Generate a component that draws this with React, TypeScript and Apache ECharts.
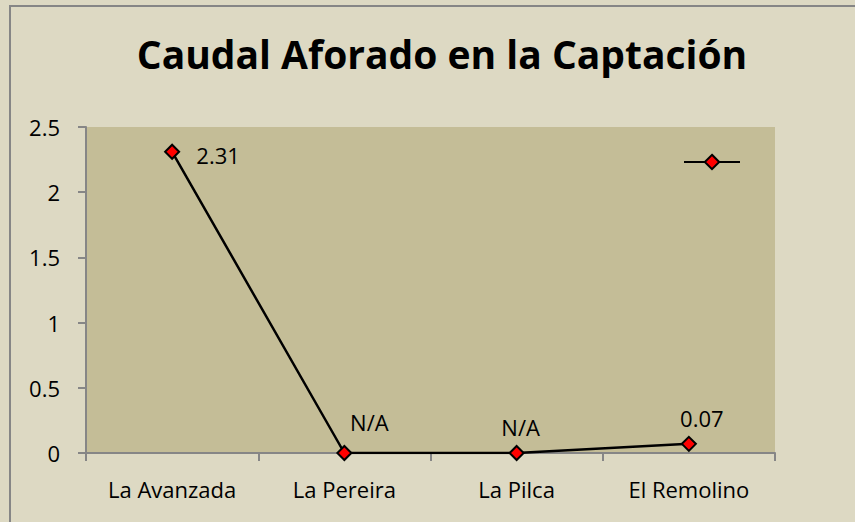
import React, { useEffect, useRef } from "react";
import * as echarts from "echarts";

const categories = ["La Avanzada", "La Pereira", "La Pilca", "El Remolino"];
const values = [2.31, 0, 0, 0.07];
const labelTexts = ["2.31", "N/A", "N/A", "0.07"];
const labelOffsets: [number, number][] = [[46, 3], [25, -31], [4, -26], [13, -26]];
const yTicks = { min: 0, max: 2.5, interval: 0.5 };

export default function App() {
  const ref = useRef<HTMLDivElement>(null);
  useEffect(() => {
    document.body.style.margin = "0";
    const chart = echarts.init(ref.current!, null, { renderer: "svg" });
    const font = "'Open Sans', sans-serif";
    chart.setOption({
      animation: false,
      backgroundColor: "#DDD9C3",
      graphic: [
        {
          type: "polyline",
          shape: { points: [[10, 522], [10, 6], [855, 6]] },
          style: { stroke: "#868686", lineWidth: 2, fill: "none" },
          silent: true,
        },
      ],
      title: {
        text: "Caudal Aforado en la Captación",
        left: 437,
        textAlign: "center",
        top: 29,
        textStyle: {
          fontFamily: "'Open Sans', sans-serif",
          fontWeight: "bold",
          fontSize: 39,
          color: "#000",
        },
      },
      legend: {
        left: 678,
        top: 148,
        itemWidth: 56,
        itemHeight: 18,
        formatter: () => "",
        data: ["Caudal"],
      },
      grid: {
        left: 86,
        right: 80,
        top: 127,
        bottom: 69,
        show: true,
        backgroundColor: "#C4BD97",
        borderWidth: 0,
      },
      xAxis: {
        type: "category",
        data: categories,
        boundaryGap: true,
        axisLine: { lineStyle: { color: "#868686", width: 2 } },
        axisTick: { show: true, length: 8, lineStyle: { color: "#868686", width: 2 } },
        axisLabel: { fontFamily: font, fontSize: 22, color: "#000", margin: 25 },
      },
      yAxis: {
        type: "value",
        min: yTicks.min,
        max: yTicks.max,
        interval: yTicks.interval,
        axisLine: { show: true, lineStyle: { color: "#868686", width: 2 } },
        axisTick: { show: true, length: 8, lineStyle: { color: "#868686", width: 2 } },
        splitLine: { show: false },
        axisLabel: { fontFamily: font, fontSize: 22, color: "#000", margin: 26 },
      },
      series: [
        {
          name: "Caudal",
          type: "line",
          data: values.map((v, i) => ({
            value: v,
            label: {
              show: true,
              position: "inside",
              offset: labelOffsets[i],
              formatter: () => labelTexts[i],
            },
          })),
          symbol: "diamond",
          symbolSize: 14,
          lineStyle: { color: "#000", width: 2.5 },
          itemStyle: { color: "#FF0000", borderColor: "#000", borderWidth: 2 },
          label: { fontFamily: font, fontSize: 22, color: "#000" },
        },
      ],
    });
    return () => chart.dispose();
  }, []);
  return <div ref={ref} style={{ width: 855, height: 522 }} />;
}
